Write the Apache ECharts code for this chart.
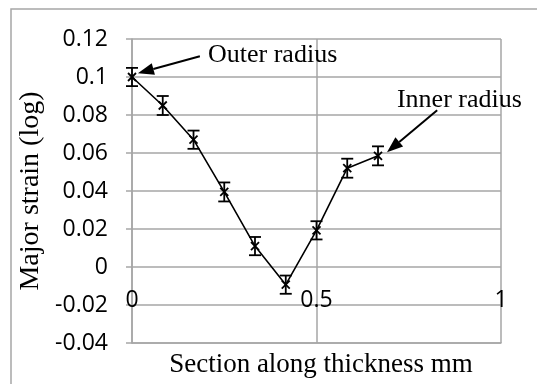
<!DOCTYPE html>
<html>
<head>
<meta charset="utf-8">
<script src="https://cdn.jsdelivr.net/npm/echarts@6/dist/echarts.min.js"></script>
<style>
html,body{margin:0;padding:0;background:#fff;}
#chart{width:537px;height:384px;}
</style>
</head>
<body>
<div id="chart"></div>
<script>
// ---- data ----
const sectionX = [0, 0.0833, 0.1667, 0.25, 0.3333, 0.4167, 0.5, 0.5833, 0.6667];
const majorStrain = [0.1, 0.085, 0.067, 0.0395, 0.011, -0.0093, 0.0193, 0.052, 0.0585];
const strainError = [0.0048, 0.005, 0.0048, 0.005, 0.0048, 0.0048, 0.0048, 0.005, 0.005];
const xTickLabels = ['0', '0.5', '1'];
const yTickLabels = ['-0.04', '-0.02', '0', '0.02', '0.04', '0.06', '0.08', '0.1', '0.12'];
const annotationLabels = ['Outer radius', 'Inner radius'];
const annotationTextAt = [[0.206, 0.1114], [0.718, 0.0877]];
const arrowFrom = [[0.184, 0.1109], [0.827, 0.0825]];
const arrowTo = [[0.016, 0.102], [0.691, 0.0604]];
const xAxisTitle = 'Section along thickness mm';
const yAxisTitle = 'Major strain (log)';

const chart = echarts.init(document.getElementById('chart'), null, {renderer: 'canvas'});
const gridColor = '#a6a6a6';
const serif = '"Liberation Serif", "Times New Roman", serif';
const sans = '"Open Sans", "Liberation Sans", sans-serif';

const linePoints = sectionX.map((x, i) => [x, majorStrain[i]]);
const errPoints = sectionX.map((x, i) => [x, majorStrain[i], strainError[i]]);
const annData = annotationLabels.map((l, i) => [
  arrowFrom[i][0], arrowFrom[i][1], arrowTo[i][0], arrowTo[i][1],
  annotationTextAt[i][0], annotationTextAt[i][1]
]);

function fmt(v) {
  const s = Math.round(v * 100) / 100;
  return String(s);
}

const option = {
  animation: false,
  backgroundColor: '#fff',
  graphic: [{
    type: 'rect', silent: true, z: -1,
    shape: {x: 11, y: 9, width: 700, height: 600},
    style: {fill: 'none', stroke: '#a6a6a6', lineWidth: 1.5}
  }],
  grid: {left: 132, right: 36, top: 39, bottom: 41, containLabel: false, outerBoundsMode: 'none'},
  xAxis: {
    type: 'value', min: 0, max: 1, interval: 0.5,
    name: xAxisTitle, nameLocation: 'middle', nameGap: 8,
    nameTextStyle: {fontFamily: serif, fontSize: 27, color: '#000', padding: [0, 0, 0, 9], verticalAlign: 'top'},
    axisLine: {onZero: false, lineStyle: {color: gridColor, width: 1.5}},
    axisTick: {show: false},
    splitLine: {show: true, lineStyle: {color: gridColor, width: 1.5}},
    axisLabel: {
      margin: -54, fontFamily: sans, fontSize: 23, color: '#000', verticalAlign: 'top',
      formatter: v => xTickLabels[Math.round(v / 0.5)] ?? fmt(v)
    }
  },
  yAxis: {
    type: 'value', min: -0.04, max: 0.12, interval: 0.02,
    name: yAxisTitle, nameLocation: 'middle', nameGap: 81, nameRotate: 90,
    nameTextStyle: {fontFamily: serif, fontSize: 28, color: '#000'},
    axisLine: {show: true, onZero: false, lineStyle: {color: gridColor, width: 1.5}},
    axisTick: {show: true, length: 6, lineStyle: {color: gridColor, width: 1.5}},
    splitLine: {show: true, lineStyle: {color: gridColor, width: 1.5}},
    axisLabel: {
      margin: 24, fontFamily: sans, fontSize: 23, color: '#000',
      formatter: v => yTickLabels[Math.round((v + 0.04) / 0.02)] ?? fmt(v)
    }
  },
  series: [
    {
      type: 'line', data: linePoints, symbol: 'none', z: 3,
      lineStyle: {color: '#000', width: 1.6}
    },
    {
      type: 'custom', data: errPoints, z: 4, clip: false,
      renderItem: function (params, api) {
        const x = api.value(0), y = api.value(1), e = api.value(2);
        const c = api.coord([x, y]);
        const top = api.coord([x, y + e]);
        const bot = api.coord([x, y - e]);
        const cw = 6, m = 4;
        const st = {stroke: '#000', lineWidth: 1.8};
        return {
          type: 'group',
          children: [
            {type: 'line', shape: {x1: c[0], y1: top[1], x2: c[0], y2: bot[1]}, style: st},
            {type: 'line', shape: {x1: c[0] - cw, y1: top[1], x2: c[0] + cw, y2: top[1]}, style: st},
            {type: 'line', shape: {x1: c[0] - cw, y1: bot[1], x2: c[0] + cw, y2: bot[1]}, style: st},
            {type: 'line', shape: {x1: c[0] - m, y1: c[1] - m, x2: c[0] + m, y2: c[1] + m}, style: st},
            {type: 'line', shape: {x1: c[0] - m, y1: c[1] + m, x2: c[0] + m, y2: c[1] - m}, style: st}
          ]
        };
      }
    },
    {
      type: 'custom', data: annData, z: 5, clip: false,
      renderItem: function (params, api) {
        const f = api.coord([api.value(0), api.value(1)]);
        const t = api.coord([api.value(2), api.value(3)]);
        const p = api.coord([api.value(4), api.value(5)]);
        const dx = t[0] - f[0], dy = t[1] - f[1];
        const len = Math.sqrt(dx * dx + dy * dy);
        const ux = dx / len, uy = dy / len;
        const hl = 16, hw = 6;
        const bx = t[0] - ux * hl, by = t[1] - uy * hl;
        const px = -uy, py = ux;
        return {
          type: 'group',
          children: [
            {type: 'line', shape: {x1: f[0], y1: f[1], x2: bx, y2: by},
             style: {stroke: '#000', lineWidth: 2}},
            {type: 'polygon', shape: {points: [[t[0], t[1]], [bx + px * hw, by + py * hw], [bx - px * hw, by - py * hw]]},
             style: {fill: '#000'}},
            {type: 'text', style: {
              text: annotationLabels[params.dataIndex], x: p[0], y: p[1],
              fill: '#000', fontFamily: serif, fontSize: 26,
              align: 'left', verticalAlign: 'middle'
            }}
          ]
        };
      }
    }
  ]
};
chart.setOption(option);
</script>
</body>
</html>
